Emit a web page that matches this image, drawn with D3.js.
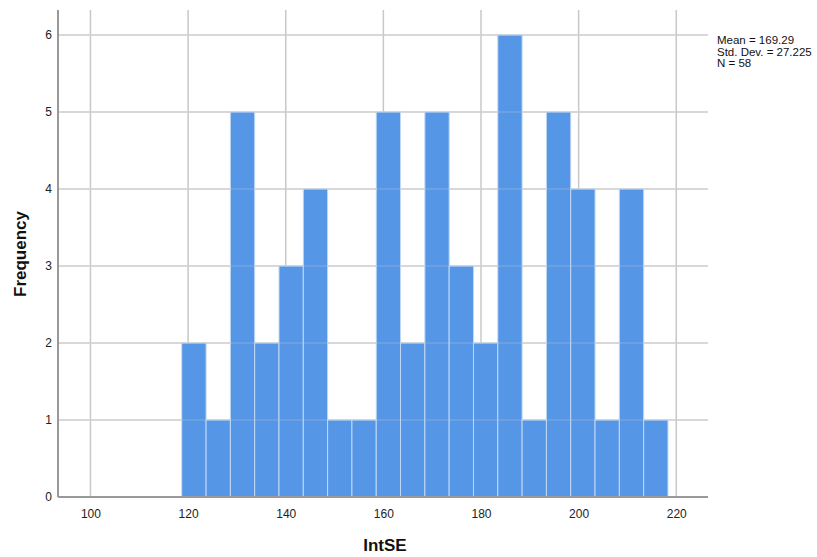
<!DOCTYPE html>
<html>
<head>
<meta charset="utf-8">
<script src="https://cdn.jsdelivr.net/npm/d3@7"></script>
<style>
  html, body { margin: 0; padding: 0; background: #fff; }
  svg { display: block; font-family: "Liberation Sans", Arial, sans-serif; }
</style>
</head>
<body>
<svg id="chart" width="817" height="557"></svg>
<script>
// Histogram of IntSE: bin lower edges and frequencies
const binStart = 118.7;
const binWidth = 4.98;
const counts = [2, 1, 5, 2, 3, 4, 1, 1, 5, 2, 5, 3, 2, 6, 1, 5, 4, 1, 4, 1];
const xTicks = [100, 120, 140, 160, 180, 200, 220];
const yTicks = [0, 1, 2, 3, 4, 5, 6];
const statLines = ["Mean = 169.29", "Std. Dev. = 27.225", "N = 58"];

const bins = counts.map((c, i) => ({ x0: binStart + i * binWidth, x1: binStart + (i + 1) * binWidth, n: c }));

const svg = d3.select("#chart");
const plotLeft = 58, plotRight = 708, plotTop = 10, plotBottom = 497;

const x = d3.scaleLinear().domain([93.35, 226.5]).range([plotLeft, plotRight]);
const y = d3.scaleLinear().domain([0, 6]).range([plotBottom, 35]);

// vertical gridlines
svg.append("g").selectAll("line").data(xTicks).join("line")
  .attr("x1", d => x(d)).attr("x2", d => x(d))
  .attr("y1", plotTop).attr("y2", plotBottom)
  .attr("stroke", "#c8c8c8").attr("stroke-width", 1.5);

// horizontal gridlines
svg.append("g").selectAll("line").data(yTicks.slice(1)).join("line")
  .attr("x1", plotLeft).attr("x2", plotRight)
  .attr("y1", d => y(d)).attr("y2", d => y(d))
  .attr("stroke", "#cfcfcf").attr("stroke-width", 1.5);

// bars
svg.append("g").selectAll("rect").data(bins).join("rect")
  .attr("x", d => x(d.x0))
  .attr("width", d => x(d.x1) - x(d.x0))
  .attr("y", d => y(d.n))
  .attr("height", d => y(0) - y(d.n))
  .attr("fill", "#5596e6")
  .attr("stroke", "#c0d8f5")
  .attr("stroke-width", 1);

// faint gridlines showing through the bars
svg.append("g").selectAll("line").data(yTicks.slice(1)).join("line")
  .attr("x1", plotLeft).attr("x2", plotRight)
  .attr("y1", d => y(d)).attr("y2", d => y(d))
  .attr("stroke", "#cfcfcf").attr("stroke-width", 1.5).attr("opacity", 0.25);

// axes
const xAxis = d3.axisBottom(x).tickValues(xTicks).tickSize(0).tickPadding(12);
const gx = svg.append("g").attr("transform", `translate(0,${plotBottom})`).call(xAxis);
gx.select(".domain").attr("d", `M${plotLeft},0H${plotRight}`).attr("stroke", "#999").attr("stroke-width", 2);
gx.selectAll("text").attr("font-size", 12).attr("fill", "#222").attr("font-family", "Liberation Sans, Arial, sans-serif");

const yAxis = d3.axisLeft(y).tickValues(yTicks).tickSize(0).tickPadding(6).tickFormat(d3.format("d"));
const gy = svg.append("g").attr("transform", `translate(${plotLeft},0)`).call(yAxis);
gy.select(".domain").attr("d", `M0,${plotTop}V${plotBottom}`).attr("stroke", "#999").attr("stroke-width", 2);
gy.selectAll("text").attr("font-size", 12).attr("fill", "#222").attr("font-family", "Liberation Sans, Arial, sans-serif");

// axis titles
svg.append("text").attr("x", 385).attr("y", 551).attr("text-anchor", "middle")
  .attr("font-size", 17).attr("font-weight", "bold").attr("fill", "#111").text("IntSE");
svg.append("text").attr("transform", "translate(26,254) rotate(-90)").attr("text-anchor", "middle")
  .attr("font-size", 17).attr("font-weight", "bold").attr("fill", "#111").text("Frequency");

// summary statistics
svg.append("g").selectAll("text").data(statLines).join("text")
  .attr("x", 717).attr("y", (d, i) => 44 + i * 11.5)
  .attr("font-size", 11.5).attr("fill", "#111").text(d => d);
</script>
</body>
</html>
